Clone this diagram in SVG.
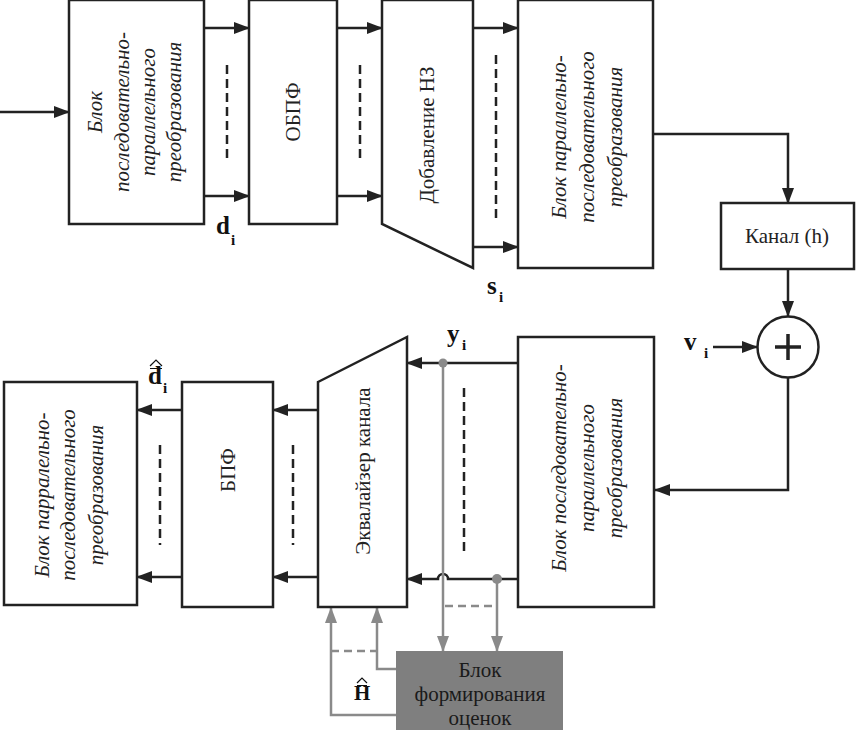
<svg xmlns="http://www.w3.org/2000/svg" width="857" height="730" viewBox="0 0 857 730">
<style>
.blk{fill:#fff;stroke:#222;stroke-width:2.5}
.ln{fill:none;stroke:#222;stroke-width:2.5}
.dash{fill:none;stroke:#222;stroke-width:2.5;stroke-dasharray:9 5}
.gl{fill:none;stroke:#8a8a8a;stroke-width:2.5}
.gd{fill:none;stroke:#8a8a8a;stroke-width:2.5;stroke-dasharray:8 5}
.it{font-family:"Liberation Serif","Times New Roman","DejaVu Serif",serif;font-style:italic;font-size:21px;fill:#222;text-anchor:middle}
.rm{font-family:"Liberation Serif","Times New Roman","DejaVu Serif",serif;font-size:21px;fill:#222;text-anchor:middle}
.lab{font-family:"Liberation Serif","Times New Roman","DejaVu Serif",serif;font-weight:bold;font-size:25px;fill:#111}
.sub{font-family:"Liberation Serif","Times New Roman","DejaVu Serif",serif;font-weight:bold;font-size:15px;fill:#111}
.acc{fill:none;stroke:#111;stroke-width:1.2}
</style>
<defs>
<marker id="ab" markerUnits="userSpaceOnUse" markerWidth="16" markerHeight="12" refX="15" refY="6" orient="auto"><path d="M0,0 L16,6 L0,12 z" fill="#222"/></marker>
<marker id="ag" markerUnits="userSpaceOnUse" markerWidth="16" markerHeight="12" refX="15" refY="6" orient="auto"><path d="M0,0 L16,6 L0,12 z" fill="#8a8a8a"/></marker>
</defs>

<g id="connectors">
<path class="ln" d="M0,112 H69" marker-end="url(#ab)"/>
<path class="ln" d="M204,28 H249" marker-end="url(#ab)"/>
<path class="ln" d="M204,196 H249" marker-end="url(#ab)"/>
<path class="ln" d="M337,28 H382" marker-end="url(#ab)"/>
<path class="ln" d="M337,196 H382" marker-end="url(#ab)"/>
<path class="ln" d="M473,28 H518" marker-end="url(#ab)"/>
<path class="ln" d="M473,247 H518" marker-end="url(#ab)"/>
<path class="ln" d="M653,134 H788 V203" marker-end="url(#ab)"/>
<path class="ln" d="M788,269 V316" marker-end="url(#ab)"/>
<path class="ln" d="M713,347 H757" marker-end="url(#ab)"/>
<path class="ln" d="M788,378 V490 H655" marker-end="url(#ab)"/>
<path class="ln" d="M518,363 H407" marker-end="url(#ab)"/>
<path class="ln" d="M518,579 H448 A5,5 0 0 0 438,579 H407" marker-end="url(#ab)"/>
<path class="ln" d="M318,410 H273" marker-end="url(#ab)"/>
<path class="ln" d="M318,577 H273" marker-end="url(#ab)"/>
<path class="ln" d="M182,410 H137" marker-end="url(#ab)"/>
<path class="ln" d="M182,577 H137" marker-end="url(#ab)"/>
<path class="dash" d="M227,65 V158"/>
<path class="dash" d="M360,65 V158"/>
<path class="dash" d="M496,55 V222"/>
<path class="dash" d="M464,388 V552"/>
<path class="dash" d="M293,445 V545"/>
<path class="dash" d="M160,445 V545"/>
<path class="gl" d="M443,363 V651" marker-end="url(#ag)"/>
<path class="gl" d="M497,579 V651" marker-end="url(#ag)"/>
<path class="gd" d="M445,606 H497"/>
<path class="gl" d="M396,669 H377 V608" marker-end="url(#ag)"/>
<path class="gl" d="M396,715 H331 V608" marker-end="url(#ag)"/>
<path class="gd" d="M331,651 H377"/>
<circle cx="443" cy="363" r="4.5" fill="#8a8a8a"/>
<circle cx="497" cy="579" r="5" fill="#8a8a8a"/>
</g>

<g id="sp1">
<rect class="blk" x="69" y="0" width="135" height="224"/>
<g transform="translate(136,112) rotate(-90)">
<text class="it" x="0" y="-34">Блок</text>
<text class="it" x="0" y="-7">последовательно-</text>
<text class="it" x="0" y="19">параллельного</text>
<text class="it" x="0" y="45">преобразования</text>
</g>
</g>

<g id="obpf">
<rect class="blk" x="249" y="0" width="88" height="224"/>
<text class="rm" transform="translate(300,112) rotate(-90)">ОБПФ</text>
</g>

<g id="nz">
<polygon class="blk" points="382,0 473,0 473,268 382,224"/>
<text class="rm" transform="translate(434,135) rotate(-90)">Добавление НЗ</text>
</g>

<g id="ps1">
<rect class="blk" x="518" y="0" width="135" height="268"/>
<g transform="translate(588,137) rotate(-90)">
<text class="it" x="0" y="-22">Блок параллельно-</text>
<text class="it" x="0" y="6">последовательного</text>
<text class="it" x="0" y="34">преобразования</text>
</g>
</g>

<g id="kanal">
<rect class="blk" x="721" y="203" width="133" height="66"/>
<text class="rm" x="787" y="243">Канал (h)</text>
</g>

<g id="sum">
<circle cx="788" cy="347" r="30.5" class="blk"/>
<path class="ln" d="M775,347 H801 M788,334 V360" style="stroke-width:3.5"/>
</g>

<g id="sp2">
<rect class="blk" x="518" y="337" width="136" height="270"/>
<g transform="translate(588,468) rotate(-90)">
<text class="it" x="0" y="-22">Блок последовательно-</text>
<text class="it" x="0" y="6">параллельного</text>
<text class="it" x="0" y="34">преобразования</text>
</g>
</g>

<g id="eq">
<polygon class="blk" points="318,382 407,337 407,607 318,607"/>
<text class="rm" transform="translate(370,471) rotate(-90)">Эквалайзер канала</text>
</g>

<g id="bpf">
<rect class="blk" x="182" y="382" width="91" height="225"/>
<text class="rm" transform="translate(235,470) rotate(-90)">БПФ</text>
</g>

<g id="ps2">
<rect class="blk" x="4" y="382" width="133" height="223"/>
<g transform="translate(69,495) rotate(-90)">
<text class="it" x="0" y="-20">Блок парралельно-</text>
<text class="it" x="0" y="6">последовательного</text>
<text class="it" x="0" y="34">преобразования</text>
</g>
</g>

<g id="est">
<rect x="396" y="651" width="167" height="79" fill="#7f7f7f"/>
<text class="rm" x="480" y="677" style="fill:#1a1a1a">Блок</text>
<text class="rm" x="480" y="701" style="fill:#1a1a1a">формирования</text>
<text class="rm" x="480" y="725" style="fill:#1a1a1a">оценок</text>
</g>

<g id="labels">
<text class="lab" x="216" y="234">d</text><text class="sub" x="231" y="245">i</text>
<text class="lab" x="487" y="294">s</text><text class="sub" x="499" y="302">i</text>
<text class="lab" x="447" y="342">y</text><text class="sub" x="462" y="350">i</text>
<text class="lab" x="684" y="350">v</text><text class="sub" x="704" y="358">i</text>
<text class="lab" x="148" y="384">d</text><text class="sub" x="163" y="393">i</text>
<path class="acc" d="M150,366 L156,360 L162,366 M150,368.5 H162"/>
<text class="lab" x="354" y="700" style="font-size:21px">H</text>
<path class="acc" d="M357,683 L362,678 L367,683 M357,685.5 H367"/>
</g>
</svg>
